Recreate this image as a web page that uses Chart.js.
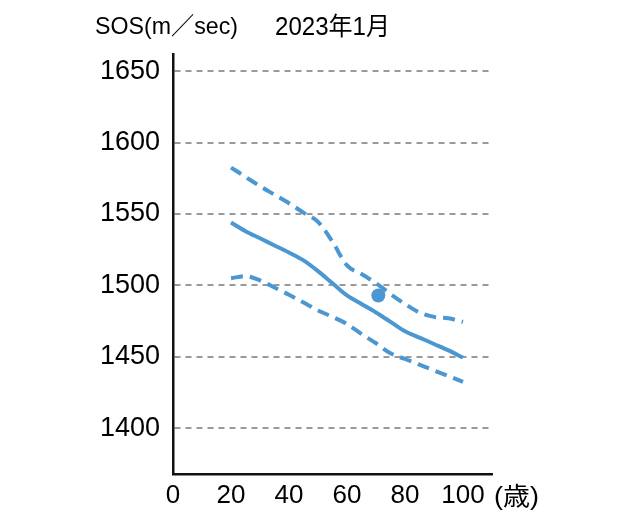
<!DOCTYPE html>
<html>
<head>
<meta charset="utf-8">
<script src="https://cdn.jsdelivr.net/npm/chart.js@4/dist/chart.umd.min.js"></script>
<style>
  html, body { margin: 0; padding: 0; background: #fff; }
  #wrap { width: 640px; height: 514px; position: relative; }
</style>
</head>
<body>
<div id="wrap"><canvas id="sosChart" width="640" height="514"></canvas></div>
<script>
// ages (x) and SOS values
const ages = [20, 25, 30, 35, 40, 45, 50, 55, 60, 65, 70, 75, 80, 85, 90, 95, 100];
const meanSos = [1544, 1538, 1533, 1528, 1523, 1517.5, 1510, 1501.5, 1493, 1487, 1481, 1474.5, 1468, 1463.5, 1459, 1454.5, 1449.5];
const upperSos = [1582.5, 1576, 1569.5, 1563.5, 1557.5, 1551, 1544.5, 1530.5, 1514, 1508, 1501.5, 1494, 1487, 1481, 1478, 1477, 1474.5];
const lowerSos = [1505, 1506.5, 1503.5, 1498.5, 1493.5, 1488, 1482.5, 1478, 1473, 1466, 1459.5, 1452.5, 1448.5, 1444.5, 1440.5, 1436.5, 1432.5];
const pointAge = [70.8];
const pointSos = [1493];

const xTicks = [0, 20, 40, 60, 80, 100];
const yTicks = [1400, 1450, 1500, 1550, 1600, 1650];
const yTitle = 'SOS(m／sec)';
const dateLabel = '2023年1月';
const xUnit = '(歳)';

const blue = '#4b97d2';
const fontStack = '"Liberation Sans", "Noto Sans CJK JP", sans-serif';
const toXY = (xs, ys) => xs.map((x, i) => ({ x: x, y: ys[i] }));

// draw text squeezed/stretched to a given width
function fitText(ctx, text, x, y, width, size) {
  ctx.font = size + 'px ' + fontStack;
  const w = ctx.measureText(text).width;
  ctx.save();
  ctx.translate(x, y);
  ctx.scale(width / w, 1);
  ctx.fillText(text, 0, 0);
  ctx.restore();
}

const textPlugin = {
  id: 'extraText',
  afterDraw(chart) {
    const ctx = chart.ctx;
    ctx.save();
    ctx.fillStyle = '#000';
    ctx.textBaseline = 'alphabetic';
    ctx.textAlign = 'left';
    fitText(ctx, yTitle, 95, 34, 143, 24);
    fitText(ctx, dateLabel, 275, 35, 115, 25);
    fitText(ctx, xUnit, 494, 505, 45, 25);
    ctx.restore();
  },
};

new Chart(document.getElementById('sosChart'), {
  type: 'line',
  data: {
    datasets: [
      {
        data: toXY(pointAge, pointSos),
        showLine: false,
        pointRadius: 7,
        pointBackgroundColor: blue,
        pointBorderWidth: 0,
      },
      {
        data: toXY(ages, meanSos),
        borderColor: blue,
        borderWidth: 4,
        pointRadius: 0,
        cubicInterpolationMode: 'monotone',
      },
      {
        data: toXY(ages, upperSos),
        borderColor: blue,
        borderWidth: 4,
        borderDash: [12, 7],
        pointRadius: 0,
        cubicInterpolationMode: 'monotone',
      },
      {
        data: toXY(ages, lowerSos),
        borderColor: blue,
        borderWidth: 4,
        borderDash: [12, 7],
        pointRadius: 0,
        cubicInterpolationMode: 'monotone',
      },
    ],
  },
  options: {
    responsive: false,
    animation: false,
    layout: { padding: { top: 54, right: 148, bottom: 0, left: 0 } },
    plugins: {
      legend: { display: false },
      tooltip: { enabled: false },
    },
    scales: {
      x: {
        type: 'linear',
        min: 0,
        max: 110,
        afterBuildTicks: (scale) => {
          scale.ticks = xTicks.map((v) => ({ value: v }));
        },
        afterFit: (scale) => {
          scale.height = 40;
        },
        grid: { display: false, drawTicks: false },
        border: { display: true, color: '#111', width: 2.5 },
        ticks: {
          color: '#000',
          padding: 6,
          maxRotation: 0,
          font: { family: '"Liberation Sans", sans-serif', size: 26 },
        },
      },
      y: {
        min: 1368,
        max: 1662,
        afterBuildTicks: (scale) => {
          scale.ticks = yTicks.map((v) => ({ value: v }));
        },
        afterFit: (scale) => {
          scale.width = 173;
        },
        grid: { color: '#9a9a9a', lineWidth: 2, drawTicks: false },
        border: { display: true, color: '#111', width: 2.5, dash: [6, 5] },
        ticks: {
          color: '#000',
          padding: 13,
          callback: (v) => String(v),
          font: { family: '"Liberation Sans", sans-serif', size: 27 },
        },
      },
    },
  },
  plugins: [textPlugin],
});
</script>
</body>
</html>
